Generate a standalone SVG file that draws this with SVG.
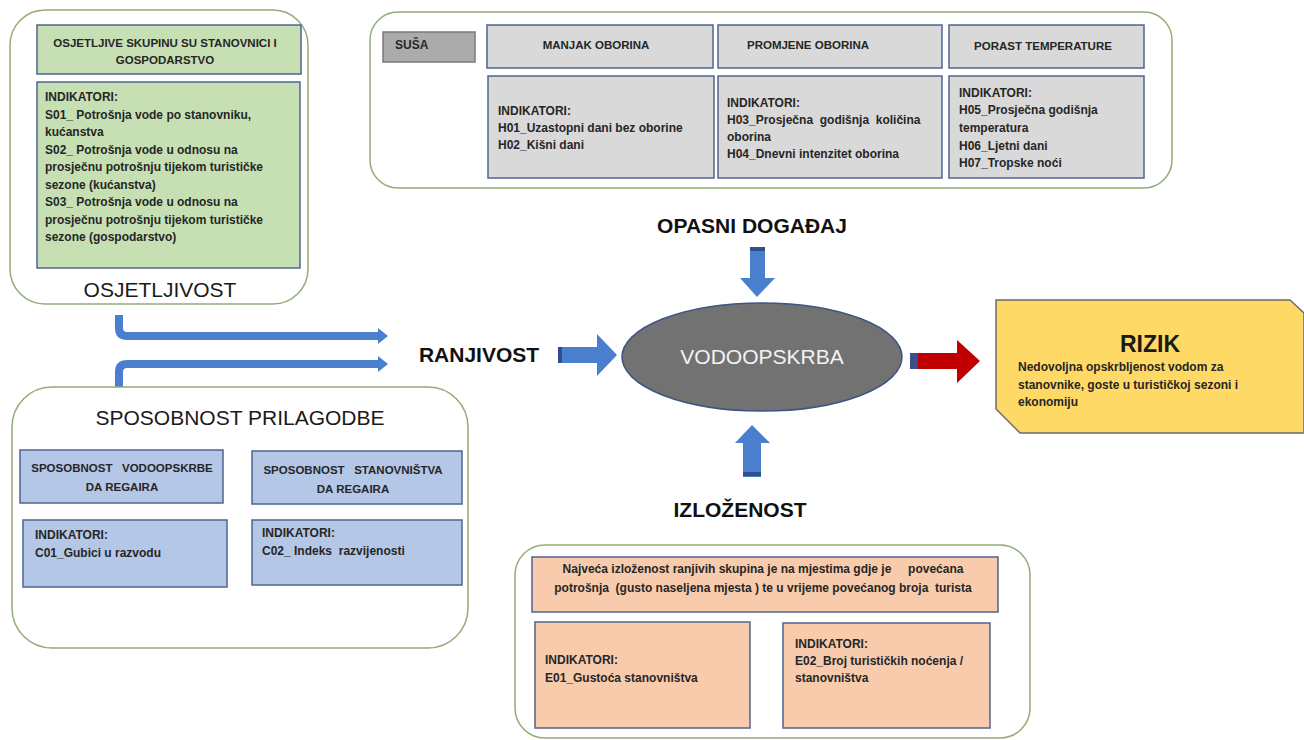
<svg xmlns="http://www.w3.org/2000/svg" width="1304" height="740" viewBox="0 0 1304 740">
<style>
.cont{fill:#ffffff;stroke:#93ad76;stroke-width:1.5}
.g{fill:#c6e0b4;stroke:#50648f;stroke-width:1.5}
.gr{fill:#d9d9d9;stroke:#50648f;stroke-width:1.5}
.b{fill:#b4c7e7;stroke:#50648f;stroke-width:1.5}
.p{fill:#f8cbad;stroke:#50648f;stroke-width:1.5}
.t{font-family:"Liberation Sans",Arial,sans-serif;font-size:12px;font-weight:bold;fill:#262626}
.tc{font-family:"Liberation Sans",Arial,sans-serif;font-size:11.5px;font-weight:bold;fill:#262626;text-anchor:middle}
.tl{font-family:"Liberation Sans",Arial,sans-serif;font-size:12px;font-weight:bold;fill:#262626;text-anchor:middle}
.big{font-family:"Liberation Sans",Arial,sans-serif;font-size:21px;fill:#1a1a1a;text-anchor:middle}
.lab{font-family:"Liberation Sans",Arial,sans-serif;font-size:21px;font-weight:bold;fill:#111;text-anchor:middle}
.arr{fill:#4a7fd0}
.tail{fill:#2f4f8f}
.line{fill:none;stroke:#4a7fd0;stroke-width:8}
</style>
<rect x="0" y="0" width="1304" height="740" fill="#ffffff"/>

<g id="connectors">
  <path class="line" d="M119,315 V328 Q119,336 127,336 H379"/>
  <polygon class="arr" points="378,328 388,336 378,344"/>
  <path class="line" d="M119,387 V372 Q119,364 127,364 H379"/>
  <polygon class="arr" points="378,356 388,364 378,372"/>
  <polygon class="arr" points="558,347 597,347 597,334 617,355 597,376 597,363 558,363"/>
  <rect class="tail" x="558" y="347" width="4" height="16"/>
  <polygon class="arr" points="750,247 765,247 765,278 775,278 757,297 740,278 750,278"/>
  <rect class="tail" x="750" y="247" width="15" height="4"/>
  <polygon class="arr" points="743,477 761,477 761,443 770,443 752,425 735,443 743,443"/>
  <rect class="tail" x="743" y="472" width="18" height="4"/>
  <polygon fill="#c00000" points="910,353 957,353 957,340 980,361 957,383 957,369 910,369"/>
  <rect fill="#3c4f8c" x="910" y="353" width="8" height="16"/>
</g>

<g id="osjetljivost">
  <rect class="cont" x="10" y="10" width="298" height="294" rx="35"/>
  <rect class="g" x="37" y="25" width="264" height="49"/>
  <text class="tc" x="165" y="47">OSJETLJIVE SKUPINU SU STANOVNICI I</text>
  <text class="tc" x="165" y="64">GOSPODARSTVO</text>
  <rect class="g" x="37" y="82" width="263" height="186"/>
  <text class="t" x="45" y="101">INDIKATORI:</text>
  <text class="t" x="45" y="118.5">S01_ Potrošnja vode po stanovniku,</text>
  <text class="t" x="45" y="136">kućanstva</text>
  <text class="t" x="45" y="153.5">S02_ Potrošnja vode u odnosu na</text>
  <text class="t" x="45" y="171">prosječnu potrošnju tijekom turističke</text>
  <text class="t" x="45" y="188.5">sezone (kućanstva)</text>
  <text class="t" x="45" y="206">S03_ Potrošnja vode u odnosu na</text>
  <text class="t" x="45" y="223.5">prosječnu potrošnju tijekom turističke</text>
  <text class="t" x="45" y="241">sezone (gospodarstvo)</text>
  <text class="big" x="160" y="297">OSJETLJIVOST</text>
</g>

<g id="opasni">
  <rect class="cont" x="370" y="12" width="802" height="176" rx="28"/>
  <rect x="383" y="32" width="92" height="30" fill="#ababab" stroke="#7a7a7a" stroke-width="1.5"/>
  <text class="t" x="395" y="49">SUŠA</text>
  <rect class="gr" x="487" y="25" width="226" height="43"/>
  <text class="tc" x="596" y="49">MANJAK OBORINA</text>
  <rect class="gr" x="718" y="25" width="224" height="43"/>
  <text class="tc" x="808" y="49">PROMJENE OBORINA</text>
  <rect class="gr" x="949" y="25" width="195" height="43"/>
  <text class="tc" x="1043" y="50">PORAST TEMPERATURE</text>
  <rect class="gr" x="488" y="76" width="226" height="102"/>
  <text class="t" x="498" y="115">INDIKATORI:</text>
  <text class="t" x="498" y="132">H01_Uzastopni dani bez oborine</text>
  <text class="t" x="498" y="149">H02_Kišni dani</text>
  <rect class="gr" x="718" y="76" width="224" height="102"/>
  <text class="t" x="727" y="107">INDIKATORI:</text>
  <text class="t" x="727" y="124" style="white-space:pre">H03_Prosječna  godišnja  količina</text>
  <text class="t" x="727" y="141">oborina</text>
  <text class="t" x="727" y="158">H04_Dnevni intenzitet oborina</text>
  <rect class="gr" x="949" y="76" width="195" height="102"/>
  <text class="t" x="959" y="97">INDIKATORI:</text>
  <text class="t" x="959" y="114">H05_Prosječna godišnja</text>
  <text class="t" x="959" y="132">temperatura</text>
  <text class="t" x="959" y="150">H06_Ljetni dani</text>
  <text class="t" x="959" y="167">H07_Tropske noći</text>
</g>

<g id="opasni-label">
  <text class="lab" x="752" y="233">OPASNI DOGAĐAJ</text>
</g>

<g id="ranjivost">
  <text class="lab" x="479" y="362">RANJIVOST</text>
</g>

<g id="vodoopskrba">
  <ellipse cx="762" cy="357" rx="140" ry="54" fill="#727272" stroke="#3e5482" stroke-width="1.5"/>
  <text x="762" y="364" font-family="Liberation Sans, Arial, sans-serif" font-size="21" fill="#f2f2f2" text-anchor="middle">VODOOPSKRBA</text>
</g>

<g id="rizik">
  <path d="M996,300 H1290 L1304,313 V433 H1020 L996,409 Z" fill="#ffd966" stroke="#6b6b6b" stroke-width="1.5"/>
  <text x="1150" y="352" font-family="Liberation Sans, Arial, sans-serif" font-size="23" font-weight="bold" fill="#1a1a1a" text-anchor="middle">RIZIK</text>
  <text class="t" x="1018" y="371">Nedovoljna opskrbljenost vodom za</text>
  <text class="t" x="1018" y="389">stanovnike, goste u turističkoj sezoni i</text>
  <text class="t" x="1018" y="406">ekonomiju</text>
</g>

<g id="izlozenost-label">
  <text class="lab" x="740" y="517">IZLOŽENOST</text>
</g>

<g id="sposobnost">
  <rect class="cont" x="12" y="387" width="456" height="261" rx="40"/>
  <text class="big" x="240" y="425">SPOSOBNOST PRILAGODBE</text>
  <rect class="b" x="20" y="450" width="203" height="53"/>
  <text class="tc" x="122" y="472" style="white-space:pre">SPOSOBNOST   VODOOPSKRBE</text>
  <text class="tc" x="122" y="491">DA REGAIRA</text>
  <rect class="b" x="252" y="451" width="210" height="53"/>
  <text class="tc" x="353" y="474" style="white-space:pre">SPOSOBNOST   STANOVNIŠTVA</text>
  <text class="tc" x="353" y="493">DA REGAIRA</text>
  <rect class="b" x="23" y="520" width="204" height="67"/>
  <text class="t" x="35" y="539">INDIKATORI:</text>
  <text class="t" x="35" y="557">C01_Gubici u razvodu</text>
  <rect class="b" x="252" y="520" width="210" height="65"/>
  <text class="t" x="262" y="537">INDIKATORI:</text>
  <text class="t" x="262" y="555" style="white-space:pre">C02_ Indeks  razvijenosti</text>
</g>

<g id="izlozenost">
  <rect class="cont" x="515" y="545" width="515" height="193" rx="30"/>
  <rect class="p" x="532" y="557" width="466" height="55"/>
  <text class="tl" x="763" y="573" style="white-space:pre">Najveća izloženost ranjivih skupina je na mjestima gdje je     povećana</text>
  <text class="tl" x="763" y="592" style="white-space:pre">potrošnja  (gusto naseljena mjesta ) te u vrijeme povećanog broja  turista</text>
  <rect class="p" x="535" y="622" width="215" height="106"/>
  <text class="t" x="545" y="664">INDIKATORI:</text>
  <text class="t" x="545" y="682">E01_Gustoća stanovništva</text>
  <rect class="p" x="783" y="623" width="207" height="105"/>
  <text class="t" x="795" y="648">INDIKATORI:</text>
  <text class="t" x="795" y="665">E02_Broj turističkih noćenja /</text>
  <text class="t" x="795" y="682">stanovništva</text>
</g>
</svg>
